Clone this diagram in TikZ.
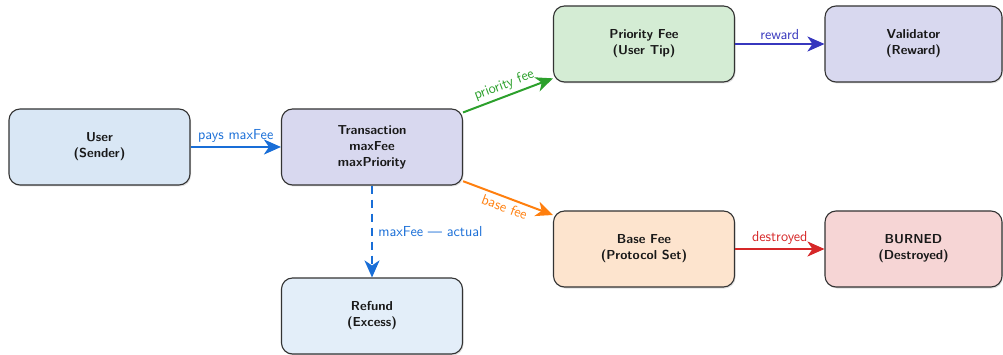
\documentclass[tikz,border=0pt]{standalone}
\usetikzlibrary{arrows.meta,shadows}

\definecolor{cUser}{HTML}{D9E7F5}
\definecolor{cTx}{HTML}{D8D8EF}
\definecolor{cRefund}{HTML}{E3EEF9}
\definecolor{cPrio}{HTML}{D4ECD4}
\definecolor{cVal}{HTML}{D8D8EF}
\definecolor{cBase}{HTML}{FDE4CE}
\definecolor{cBurn}{HTML}{F6D5D5}
\definecolor{lBlue}{RGB}{25,110,215}
\definecolor{lGreen}{HTML}{2CA02C}
\definecolor{lOrange}{HTML}{FF7F0E}
\definecolor{lIndigo}{RGB}{55,55,190}
\definecolor{lRed}{HTML}{D62728}

\tikzset{
  box/.style={draw=black!80, line width=1.1pt, rounded corners=11pt,
    minimum width=181pt, minimum height=76pt, align=center,
    font=\fontsize{13}{16}\selectfont\sffamily\bfseries, text=black!90,
    drop shadow={shadow xshift=1pt, shadow yshift=-1.5pt, opacity=0.25}},
  flow/.style={line width=2pt, -{Stealth[length=17pt,width=15pt,inset=5pt]}},
  lbl/.style={font=\fontsize{14.5}{17}\selectfont\sffamily}
}

\begin{document}
\begin{tikzpicture}[x=1pt,y=-1pt]
  \useasboundingbox (0,0) rectangle (1003,355);

  % fee flow boxes
  \node[box, fill=cUser]   (user)   at (99.5,147) {User\\(Sender)};
  \node[box, fill=cTx]     (tx)     at (372,147)  {Transaction\\maxFee\\maxPriority};
  \node[box, fill=cRefund] (refund) at (372,316)  {Refund\\(Excess)};
  \node[box, fill=cPrio]   (prio)   at (644,44)   {Priority Fee\\(User Tip)};
  \node[box, fill=cVal, minimum width=177pt] (val)  at (913.5,44)  {Validator\\(Reward)};
  \node[box, fill=cBase]   (base)   at (644,249)  {Base Fee\\(Protocol Set)};
  \node[box, fill=cBurn, minimum width=177pt] (burn) at (913.5,249) {BURNED\\(Destroyed)};

  % connectors
  \draw[flow, lBlue] (user) -- node[lbl, above, text=lBlue] {pays maxFee} (tx);
  \draw[flow, lGreen] (tx) -- node[lbl, above, sloped, text=lGreen] {priority fee} (prio);
  \draw[flow, lOrange] (tx) -- node[lbl, below, sloped, text=lOrange] {base fee} (base);
  \draw[flow, lBlue, dash pattern=on 8pt off 6pt] (tx) -- node[lbl, right, xshift=2pt, text=lBlue] {maxFee --- actual} (refund);
  \draw[flow, lIndigo] (prio) -- node[lbl, above, text=lIndigo] {reward} (val);
  \draw[flow, lRed] (base) -- node[lbl, above, text=lRed] {destroyed} (burn);
\end{tikzpicture}
\end{document}
